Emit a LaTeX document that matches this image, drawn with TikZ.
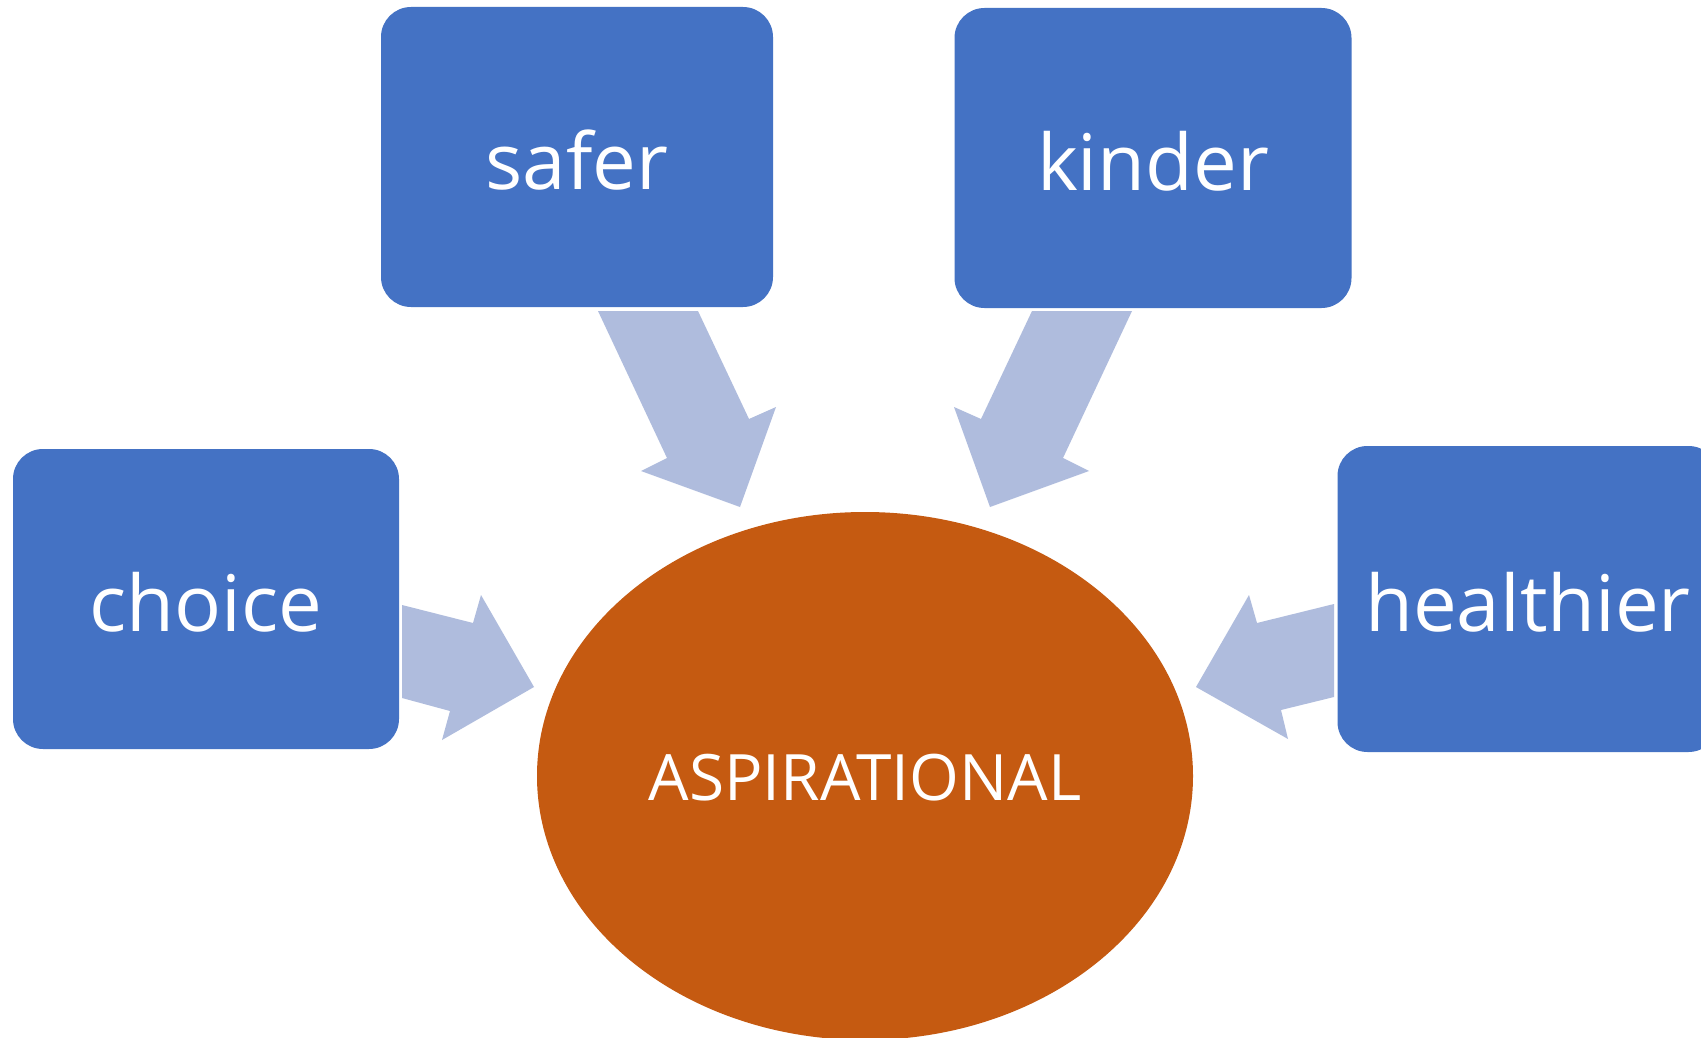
\documentclass[tikz,border=0pt]{standalone}
\usepackage{fontspec}
\setmainfont{Open Sans}
\usetikzlibrary{shapes.geometric}
\definecolor{boxblue}{RGB}{68,114,196}
\definecolor{arrowblue}{RGB}{175,188,221}
\definecolor{hub}{RGB}{197,90,17}
\tikzset{
  word/.style={rounded corners=30pt, fill=boxblue, text=white,
    minimum width=392pt, minimum height=300pt, inner sep=0pt,
    text height=65pt, text depth=0pt,
    font=\fontsize{78}{90}\selectfont},
  hubnode/.style={ellipse, fill=hub, text=white, inner sep=0pt,
    minimum width=656pt, minimum height=528pt,
    text height=48pt, text depth=0pt,
    font=\fontsize{64}{76}\selectfont},
  blockarrow/.style={fill=arrowblue}
}
\begin{document}
\begin{tikzpicture}[x=1pt,y=-1pt]
  \clip (0,0) rectangle (1701,1038);
  \fill[white] (0,0) rectangle (1701,1038);

  % outer words
  \node[word] (safer)     at (577,157)  {safer};
  \node[word, minimum width=397pt] (kinder) at (1153,158) {kinder};
  \node[word, minimum width=386pt] (choice) at (206,599)  {choice};
  \node[word, minimum width=381pt, minimum height=306pt] (healthier)
    at (1528,599) {healthier};

  % central goal
  \node[hubnode] (goal) at (865,776) {ASPIRATIONAL};

  % block arrows pointing at the goal
  \fill[blockarrow] (598,311) -- (698,311) -- (749,419) -- (776,407)
    -- (740,507) -- (641,471) -- (667,458) -- cycle;
  \fill[blockarrow] (1132,311) -- (1032,311) -- (981,419) -- (954,407)
    -- (990,507) -- (1089,471) -- (1063,458) -- cycle;
  \fill[blockarrow] (402,605) -- (473,623) -- (481,595) -- (534,687)
    -- (442,740) -- (450,711) -- (402,698) -- cycle;
  \fill[blockarrow] (1334,604) -- (1257,623) -- (1249,595) -- (1196,687)
    -- (1288,739) -- (1281,710) -- (1334,697) -- cycle;
\end{tikzpicture}
\end{document}
